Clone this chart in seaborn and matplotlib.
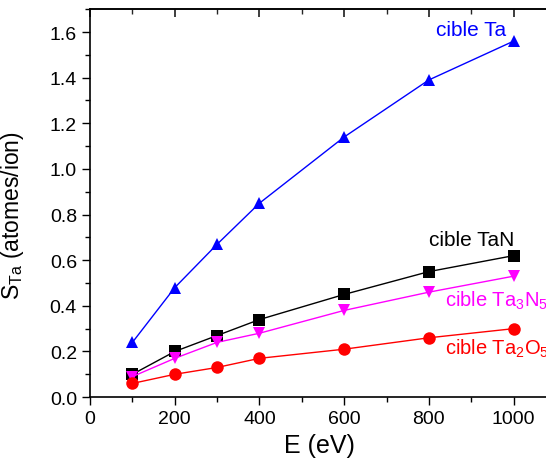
import matplotlib
matplotlib.use("Agg")
import matplotlib.pyplot as plt
import seaborn as sns
import pandas as pd
from matplotlib.ticker import MultipleLocator

# Energies (eV) and sputtering yields
energy = [100, 200, 300, 400, 600, 800, 1000]
s_ta = [0.24, 0.48, 0.67, 0.85, 1.14, 1.39, 1.56]
s_tan = [0.10, 0.20, 0.27, 0.34, 0.45, 0.55, 0.62]
s_ta3n5 = [0.09, 0.17, 0.24, 0.28, 0.38, 0.46, 0.53]
s_ta2o5 = [0.06, 0.10, 0.13, 0.17, 0.21, 0.26, 0.30]

series = ["Ta", "TaN", "Ta3N5", "Ta2O5"]
colors = ["#0000ff", "#000000", "#ff00ff", "#ff0000"]
markers = ["^", "s", "v", "o"]

df = pd.DataFrame({
    "E": energy * 4,
    "S": s_ta + s_tan + s_ta3n5 + s_ta2o5,
    "cible": [s for s in series for _ in energy],
})

sns.set_theme(style="ticks")
plt.rcParams["font.family"] = ["Liberation Sans", "DejaVu Sans"]
plt.rcParams["mathtext.fontset"] = "custom"
plt.rcParams["mathtext.rm"] = "Liberation Sans"
plt.rcParams["mathtext.it"] = "Liberation Sans"

fig = plt.figure(figsize=(5.46, 4.64), dpi=100)
ax = fig.add_axes([0.165, 0.142, 0.84, 0.836])

sns.lineplot(
    data=df, x="E", y="S", hue="cible", style="cible",
    palette=dict(zip(series, colors)),
    markers=dict(zip(series, markers)),
    dashes=False, markersize=9, markeredgewidth=0,
    linewidth=1, legend=False, ax=ax,
)

ax.set_xlim(0, 1083)
ax.set_ylim(0, 1.70)
ax.xaxis.set_major_locator(MultipleLocator(200))
ax.xaxis.set_minor_locator(MultipleLocator(100))
ax.yaxis.set_major_locator(MultipleLocator(0.2))
ax.yaxis.set_minor_locator(MultipleLocator(0.1))
ax.yaxis.set_major_formatter(matplotlib.ticker.FormatStrFormatter("%.1f"))

ax.tick_params(which="both", direction="out", bottom=True, left=True,
               top=False, right=False, color="black", labelsize=14,
               labelcolor="black")
ax.tick_params(which="major", length=6, width=1)
ax.tick_params(which="minor", length=3.5, width=1)
sec = ax.secondary_xaxis("top")
sec.xaxis.set_major_locator(MultipleLocator(200))
sec.xaxis.set_minor_locator(MultipleLocator(100))
sec.tick_params(which="both", direction="in", labeltop=False)
sec.tick_params(which="major", length=6)
sec.tick_params(which="minor", length=3.5)
for sp in ax.spines.values():
    sp.set_linewidth(1.2)
    sp.set_color("black")

ax.set_xlabel("E (eV)", fontsize=18, labelpad=4, color="black")
ax.set_ylabel(r"S$_{\rm Ta}$ (atomes/ion)", fontsize=16.5, color="black")
ax.yaxis.set_label_coords(-0.14, 0.47)

ax.text(900, 1.61, "cible Ta", color="#0000ff", fontsize=15, ha="center", va="center")
ax.text(900, 0.69, "cible TaN", color="black", fontsize=15, ha="center", va="center")
ax.text(838, 0.425, r"cible Ta$_3$N$_5$", color="#ff00ff", fontsize=14.5, ha="left", va="center")
ax.text(838, 0.215, r"cible Ta$_2$O$_5$", color="#ff0000", fontsize=14.5, ha="left", va="center")

plt.savefig("out.png", dpi=100)
